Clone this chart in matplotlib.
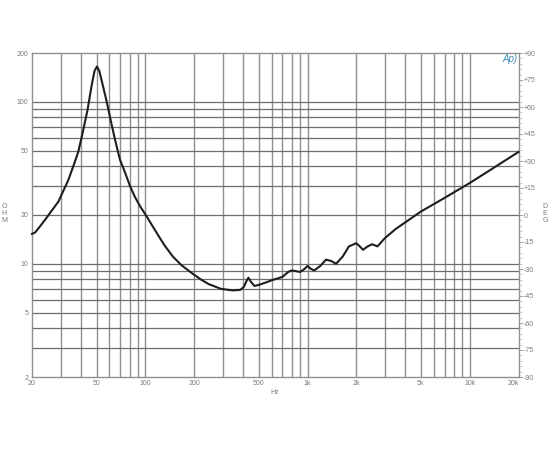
import matplotlib
matplotlib.use("Agg")
import matplotlib.pyplot as plt
from matplotlib.ticker import FixedLocator, NullFormatter, FixedFormatter

freq_hz = [20, 20.9, 22.4, 24, 26.4, 29.1, 33.5, 36.8, 38.6, 41, 44, 46.7, 48.6, 50.3, 52,
           53.7, 56.5, 59.3, 62, 65.1, 69.7, 75, 80.4, 86, 92.9, 100.6, 109.5, 123, 132, 148,
           167, 197, 220, 245, 293, 346, 385, 405, 420, 432, 445, 470, 500, 550, 600, 700,
           760, 800, 900, 960, 1000, 1050, 1100, 1200, 1300, 1400, 1500, 1650, 1800, 2000,
           2100, 2200, 2350, 2500, 2700, 3000, 3500, 5000, 7000, 10000, 14000, 20000]
impedance_ohm = [15.3, 15.6, 17, 18.6, 21.2, 24.2, 32.9, 42.7, 49.2, 64, 89, 127, 155, 165, 155,
                 136, 110, 89, 72, 58, 44, 36.5, 30.2, 26, 22.6, 20, 17.4, 14.4, 12.9, 11.06,
                 9.8, 8.64, 8.0, 7.5, 7.0, 6.85, 6.9, 7.2, 7.8, 8.2, 7.8, 7.3, 7.4, 7.65, 7.9, 8.3,
                 8.9, 9.1, 8.9, 9.3, 9.7, 9.3, 9.1, 9.7, 10.6, 10.4, 10.0, 11.1, 12.8, 13.4,
                 12.8, 12.2, 12.8, 13.2, 12.8, 14.4, 16.4, 21, 25.5, 31.5, 39, 49]

x_grid = [30, 40, 50, 60, 70, 80, 90, 100, 200, 300, 400, 500, 600, 700, 800, 900,
          1000, 2000, 3000, 4000, 5000, 6000, 7000, 8000, 9000, 10000]
y_grid = [3, 4, 5, 6, 7, 8, 9, 10, 20, 30, 40, 50, 60, 70, 80, 90, 100]
x_ticks = [20, 50, 100, 200, 500, 1000, 2000, 5000, 10000, 20000]
x_labels = ["20", "50", "100", "200", "500", "1k", "2k", "5k", "10k", "20k"]
y_ticks = [2, 5, 10, 20, 50, 100, 200]
y_labels = ["2", "5", "10", "20", "50", "100", "200"]
deg_ticks = [-90, -75, -60, -45, -30, -15, 0, 15, 30, 45, 60, 75, 90]
deg_labels = ["-90", "-75", "-60", "-45", "-30", "-15", "0", "+15", "+30", "+45", "+60", "+75", "+90"]
deg_minor = [d for d in range(-90, 91, 3) if d % 15 != 0]

W, H = 550, 450
LEFT, RIGHT, TOP, BOTTOM = 32, 518.5, 53, 377
TXT = "#7a7a7a"
FS = 5

plt.rcParams["font.family"] = "Liberation Sans"
fig = plt.figure(figsize=(W / 100, H / 100), dpi=100, facecolor="white")
ax = fig.add_axes([LEFT / W, 1 - BOTTOM / H, (RIGHT - LEFT) / W, (BOTTOM - TOP) / H])
ax.set_xscale("log")
ax.set_yscale("log")
ax.set_xlim(20, 20000)
ax.set_ylim(2, 200)

for x in x_grid:
    ax.axvline(x, color="#8f8f8f", lw=1.0, zorder=1)
for y in y_grid:
    ax.axhline(y, color="#6e6e6e", lw=0.9, zorder=1)

ax.plot(freq_hz, impedance_ohm, color="#1e1e1e", lw=1.5, zorder=3,
        solid_joinstyle="round", clip_on=False)

ax.xaxis.set_major_locator(FixedLocator(x_ticks))
ax.xaxis.set_major_formatter(FixedFormatter(x_labels))
ax.xaxis.set_minor_locator(FixedLocator([]))
ax.xaxis.set_minor_formatter(NullFormatter())
ax.yaxis.set_major_locator(FixedLocator(y_ticks))
ax.yaxis.set_major_formatter(FixedFormatter(y_labels))
ax.yaxis.set_minor_locator(FixedLocator([]))
ax.yaxis.set_minor_formatter(NullFormatter())
ax.tick_params(axis="both", which="major", length=0, labelsize=FS, labelcolor=TXT, pad=2.5)
ax.get_xticklabels()[-1].set_ha("right")
for s in ax.spines.values():
    s.set_color("#8f8f8f")
    s.set_linewidth(1.0)

ax2 = ax.twinx()
ax2.set_yscale("linear")
ax2.set_ylim(-90, 90)
ax2.set_yticks(deg_ticks)
ax2.set_yticklabels(deg_labels)
ax2.set_yticks(deg_minor, minor=True)
ax2.tick_params(axis="y", which="major", length=3, width=0.6, color="#999999",
                labelsize=FS, labelcolor=TXT, pad=1)
ax2.tick_params(axis="y", which="minor", length=2, width=0.5, color="#b5b5b5")
for s in ax2.spines.values():
    s.set_visible(False)

def label(px, py, s, **kw):
    fig.text(px / W, 1 - py / H, s, ha="center", va="center", fontsize=FS, color=TXT, **kw)

label(275, 392, "Hz")
for py, ch in zip([207, 214, 221], "OHM"):
    label(4, py, ch)
for py, ch in zip([206, 214, 221], "DEG"):
    label(545, py, ch)

fig.text(510.5 / W, 1 - 59.5 / H, "Ap)", ha="center", va="center", fontsize=7,
         style="italic", color="#3f8fb5")

fig.savefig("out.png", dpi=100, facecolor="white")
